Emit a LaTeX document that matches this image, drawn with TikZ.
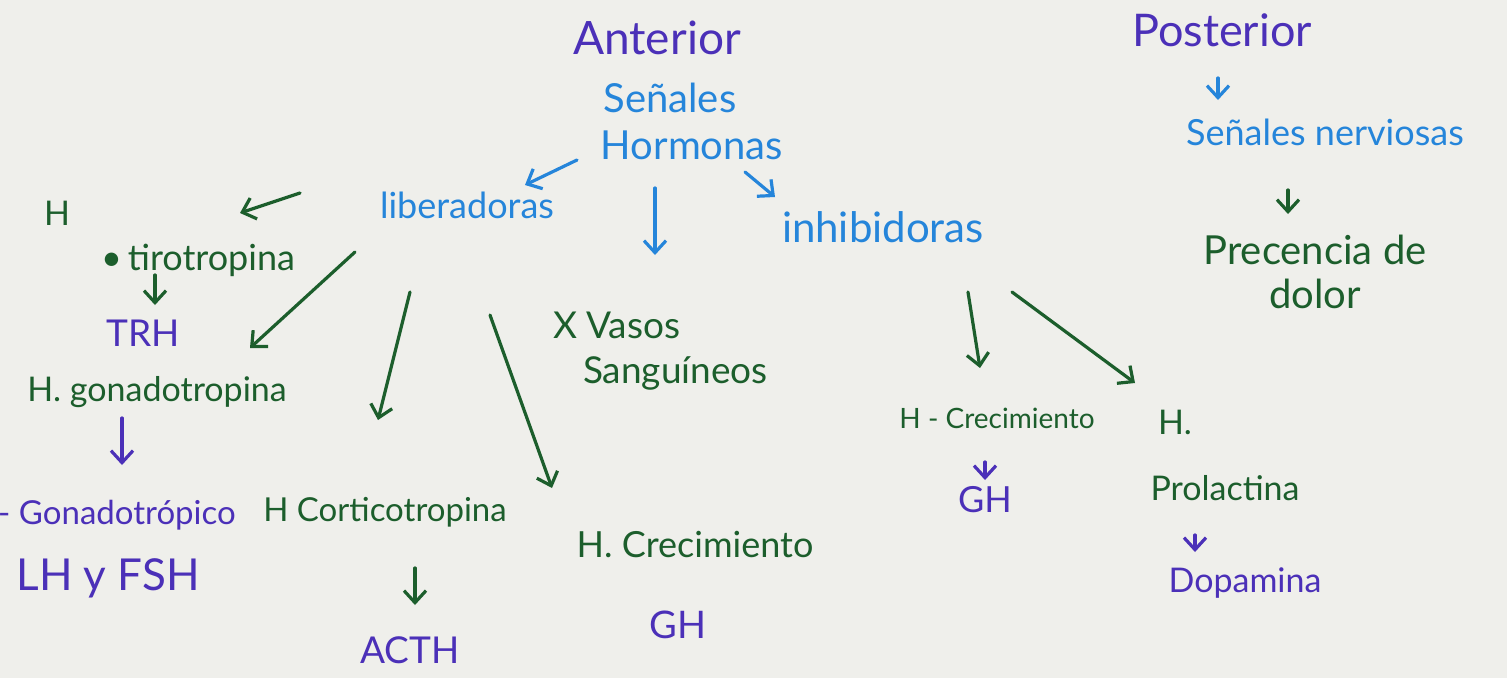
\documentclass[tikz,border=0pt]{standalone}
\usepackage{fontspec}
\setmainfont{Lato}
\usetikzlibrary{arrows.meta}
\definecolor{bgc}{HTML}{EFEFEB}
\definecolor{pur}{HTML}{4B30B8}
\definecolor{blu}{HTML}{2585DA}
\definecolor{grn}{HTML}{1C5E2C}
\newcommand{\fsz}[1]{\fontsize{#1}{#1}\selectfont}
\tikzset{
  lbl/.style={inner sep=0pt, outer sep=0pt, anchor=center},
  pu/.style={lbl, text=pur},
  bl/.style={lbl, text=blu},
  gr/.style={lbl, text=grn},
  arr/.style={line width=3.2pt, line cap=round, -{Straight Barb[length=12pt,width=22pt,line width=3.2pt]}},
  garr/.style={arr, draw=grn},
  barr/.style={arr, draw=blu},
}
\begin{document}
\begin{tikzpicture}[x=1pt,y=-1pt]
\fill[bgc] (0,0) rectangle (1507,678);
\useasboundingbox (0,0) rectangle (1507,678);
% anterior
\node[pu] (ant) at (657,38) {\fsz{46}Anterior};
\node[bl] (sen) at (670,98) {\fsz{40}Señales};
\node[bl] (hor) at (692,145) {\fsz{40}Hormonas};
\node[bl] (lib) at (467,205) {\fsz{36}liberadoras};
\node[bl] (inh) at (883,227) {\fsz{42}inhibidoras};
\coordinate (vdown) at (655,255);
% liberadoras branch
\node[gr] (h1) at (57,213) {\fsz{34}H};
\node[gr] (tir) at (198,260) {\fsz{36}•\,tirotropina};
\node[pu] (trh) at (143,333) {\fsz{37}TRH};
\node[gr] (gon) at (157,392) {\fsz{34}H. gonadotropina};
\node[pu] (gonico) at (117,515) {\fsz{33}- Gonadotrópico};
\node[pu] (lhfsh) at (108,578) {\fsz{44}LH y FSH};
\node[gr] (cort) at (385,512) {\fsz{33}H Corticotropina};
\node[pu] (acth) at (410,650) {\fsz{37}ACTH};
\node[gr, align=left, anchor=north west, font=\fsz{37}] (vasos) at (553,312) {X Vasos\\[8pt]\hspace{30pt}Sanguíneos};
\node[gr] (crec1) at (695,545) {\fsz{36}H. Crecimiento};
\node[pu] (gh1) at (678,625) {\fsz{38}GH};
% inhibidoras branch
\node[gr] (crec2) at (997,418) {\fsz{28}H - Crecimiento};
\node[pu] (gh2) at (985,500) {\fsz{36}GH};
\node[gr] (prolH) at (1175,422) {\fsz{34}H.};
\node[gr] (prol) at (1225,488) {\fsz{34}Prolactina};
\node[pu] (dop) at (1245,583) {\fsz{34}Dopamina};
% posterior
\node[pu] (post) at (1222,30) {\fsz{45}Posterior};
\node[bl] (nerv) at (1325,132) {\fsz{36}Señales nerviosas};
\node[gr, align=center, font=\fsz{40}] (dolor) at (1315,272) {Precencia de\\[4pt]dolor};
% arrows
\draw[barr] ([shift={(-115,15)}]hor.center) -- ([shift={(58,-20)}]lib.center);
\draw[barr] ([shift={(-37,43)}]hor.center) -- (vdown);
\draw[barr] ([shift={(53,27)}]hor.center) -- ([shift={(-108,-30)}]inh.center);
\draw[garr] ([shift={(-167,-12)}]lib.center) -- ([shift={(42,-47)}]tir.center);
\draw[garr] ([shift={(-43,15)}]tir.center) -- ([shift={(12,-28)}]trh.center);
\draw[garr] ([shift={(-112,47)}]lib.center) -- ([shift={(93,-44)}]gon.center);
\draw[draw=pur, arr] ([shift={(-35,26)}]gon.center) -- ([shift={(5,-50)}]gonico.center);
\draw[garr] ([shift={(-57,87)}]lib.center) -- ([shift={(-7,-92)}]cort.center);
\draw[garr] ([shift={(30,56)}]cort.center) -- ([shift={(5,-45)}]acth.center);
\draw[garr] ([shift={(23,110)}]lib.center) -- ([shift={(-143,-57)}]crec1.center);
\draw[garr] ([shift={(85,65)}]inh.center) -- ([shift={(-17,-50)}]crec2.center);
\draw[garr] ([shift={(129,65)}]inh.center) -- ([shift={(-40,-39)}]prolH.center);
\draw[draw=pur, arr] ([shift={(-12,44)}]crec2.center) -- ([shift={(0,-20)}]gh2.center);
\draw[draw=pur, arr] ([shift={(-30,47)}]prol.center) -- ([shift={(-50,-31)}]dop.center);
\draw[barr] ([shift={(-4,48)}]post.center) -- ([shift={(-107,-32)}]nerv.center);
\draw[garr] ([shift={(-37,58)}]nerv.center) -- ([shift={(-27,-58)}]dolor.center);
\end{tikzpicture}
\end{document}
